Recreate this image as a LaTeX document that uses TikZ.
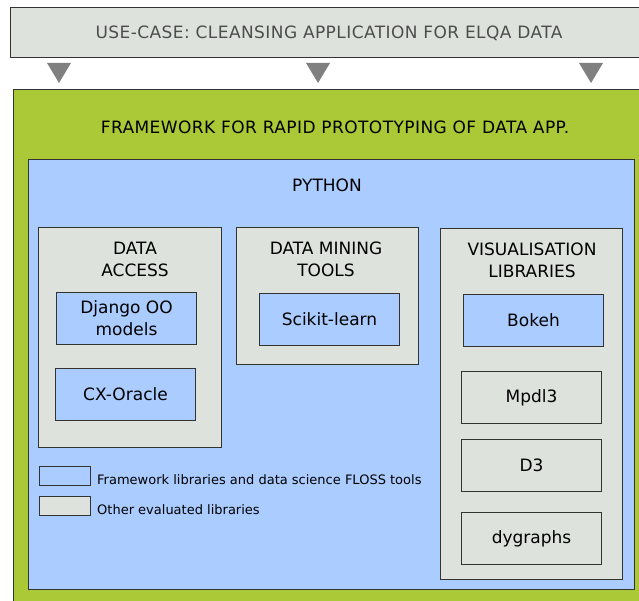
\documentclass[tikz,border=0pt]{standalone}
\usepackage{fontspec}
\setmainfont{DejaVu Sans}
\newfontfamily\widefont[LetterSpace=2.5]{DejaVu Sans}
\definecolor{linegray}{HTML}{333333}
\definecolor{textgray}{HTML}{4D4D4D}
\definecolor{arrowgray}{HTML}{808080}
\definecolor{grayfill}{HTML}{DDE3DC}
\definecolor{greenfill}{HTML}{ABC837}
\definecolor{bluefill}{HTML}{AACCFF}
\begin{document}
\begin{tikzpicture}[x=1pt,y=-1pt,
	box/.style={draw=linegray, line width=1pt, anchor=north west, inner sep=0pt},
	groupbox/.style={box, fill=grayfill},
	libbox/.style={box, fill=bluefill, minimum width=140pt, minimum height=52pt, align=center, font=\fontsize{17}{22}\selectfont},
	otherbox/.style={libbox, fill=grayfill},
	title/.style={align=center, inner sep=0pt, font=\fontsize{17}{22}\selectfont},
	keybox/.style={box, minimum width=51pt, minimum height=19pt},
	keytext/.style={anchor=west, inner sep=0pt, font=\fontsize{13}{16}\selectfont}]
	\useasboundingbox (0,0) rectangle (639,601);
	
	\node[box, fill=grayfill, minimum width=640pt, minimum height=50pt] (usecase) at (10,7) {};
	\node[inner sep=0pt, text=textgray, font=\widefont\fontsize{17}{20}\selectfont] (usecasetxt) at (329,33) {USE-CASE: CLEANSING APPLICATION FOR ELQA DATA};
	
	\fill[arrowgray] (47,63) -- (71,63) -- (59,83) -- cycle;
	\fill[arrowgray] (306,63) -- (330,63) -- (318,83) -- cycle;
	\fill[arrowgray] (579,63) -- (603,63) -- (591,83) -- cycle;
	
	\node[box, fill=greenfill, minimum width=640pt, minimum height=520pt] (framework) at (13,89) {};
	\node[inner sep=0pt, font=\widefont\fontsize{17}{20}\selectfont] (frameworktxt) at (335,127) {FRAMEWORK FOR RAPID PROTOTYPING OF DATA APP.};
	
	\node[box, fill=bluefill, minimum width=606pt, minimum height=430pt] (python) at (28,159) {};
	\node[title] (pythontxt) at (327,185) {PYTHON};
	
	% data access
	\node[groupbox, minimum width=183pt, minimum height=220pt] (access) at (38,227) {};
	\node[title] (accesstxt) at (135,259) {DATA\\ACCESS};
	\node[libbox] (django) at (56,292) {Django OO\\models};
	\node[libbox] (oracle) at (55,368) {CX-Oracle};
	
	% data mining
	\node[groupbox, minimum width=182pt, minimum height=137pt] (mining) at (236,227) {};
	\node[title] (miningtxt) at (326,259) {DATA MINING\\TOOLS};
	\node[libbox] (scikit) at (259,293) {Scikit-learn};
	
	% visualisation
	\node[groupbox, minimum width=182pt, minimum height=351pt] (visual) at (440,228) {};
	\node[title] (visualtxt) at (532,260) {VISUALISATION\\LIBRARIES};
	\node[libbox] (bokeh) at (463,294) {Bokeh};
	\node[otherbox] (mpdl) at (461,371) {Mpdl3};
	\node[otherbox] (dthree) at (461,439) {D3};
	\node[otherbox] (dygraphs) at (461,512) {dygraphs};
	
	% legend
	\node[keybox, fill=bluefill] (keyblue) at (39,466) {};
	\node[keytext] (keybluetxt) at (97,480) {Framework libraries and data science FLOSS tools};
	\node[keybox, fill=grayfill] (keygray) at (39,496) {};
	\node[keytext] (keygraytxt) at (97,510) {Other evaluated libraries};
\end{tikzpicture}
\end{document}
